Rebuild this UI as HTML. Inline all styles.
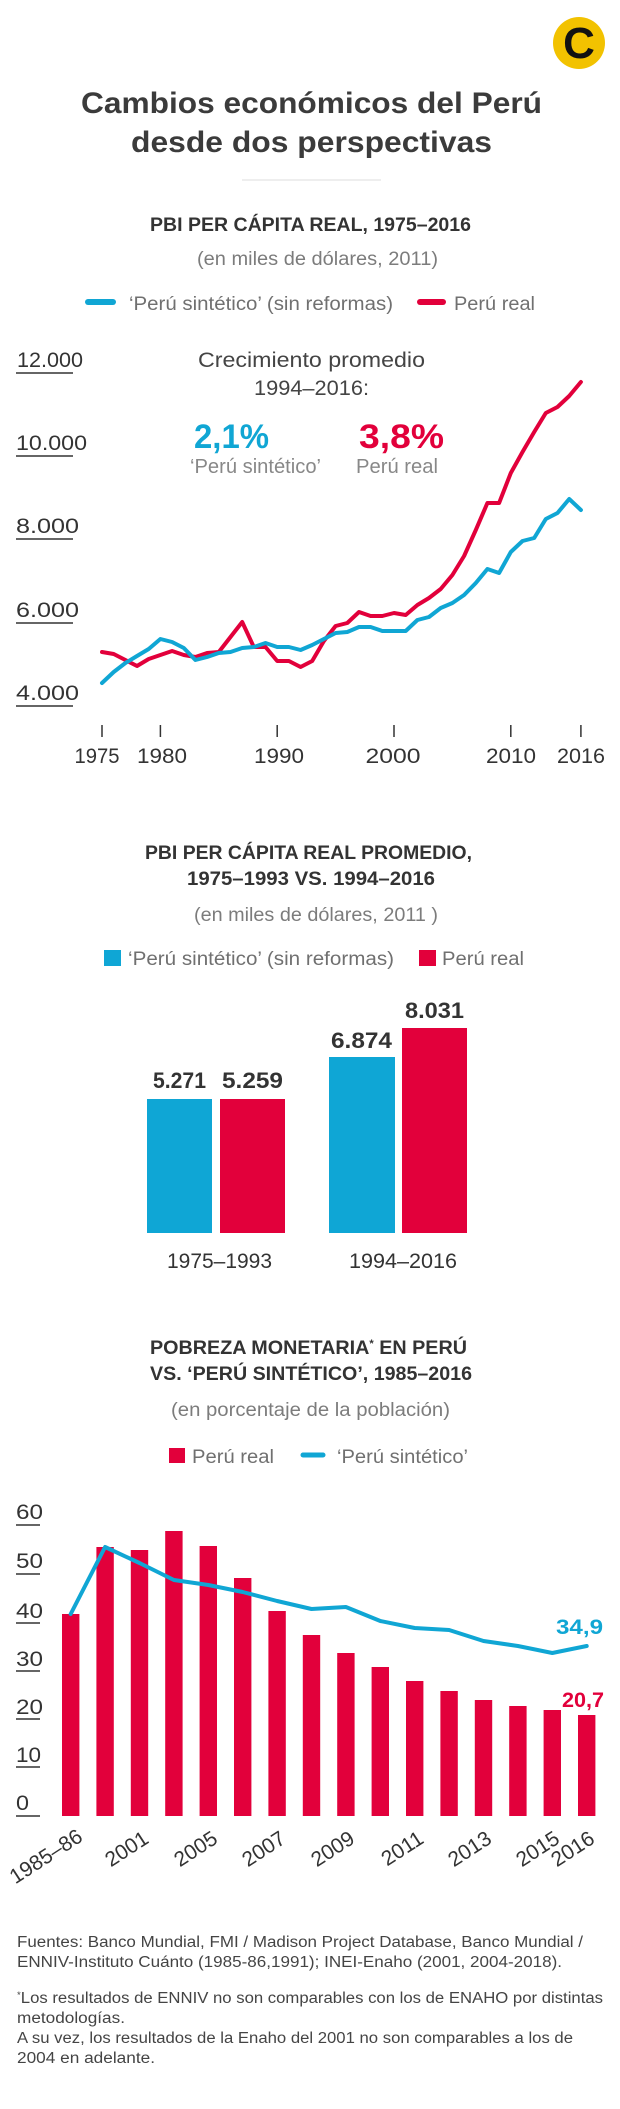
<!DOCTYPE html>
<html>
<head>
<meta charset="utf-8">
<style>
html,body{margin:0;padding:0;background:#fff;}
svg{display:block;}
text{font-family:"Liberation Sans",sans-serif;}
</style>
</head>
<body>
<svg width="620" height="2109" viewBox="0 0 620 2109" xmlns="http://www.w3.org/2000/svg">
<rect x="0" y="0" width="620" height="2109" fill="#ffffff"/>

<!-- Logo -->
<circle cx="579" cy="43" r="26" fill="#F2C200"/>
<text x="579" y="58" text-anchor="middle" font-family="Liberation Serif, serif" font-weight="bold" font-size="44" fill="#111">C</text>

<!-- Title -->
<text x="81" y="113" font-size="30" font-weight="bold" fill="#3b3b3b" textLength="461" lengthAdjust="spacingAndGlyphs">Cambios económicos del Perú</text>
<text x="131" y="152" font-size="30" font-weight="bold" fill="#3b3b3b" textLength="361" lengthAdjust="spacingAndGlyphs">desde dos perspectivas</text>
<line x1="242" y1="180" x2="381" y2="180" stroke="#dddddd" stroke-width="1"/>

<!-- Chart 1 heading -->
<text x="150" y="231" font-size="19.5" font-weight="bold" fill="#333" textLength="321" lengthAdjust="spacingAndGlyphs">PBI PER CÁPITA REAL, 1975–2016</text>
<text x="197" y="265" font-size="19" fill="#7c7c7c" textLength="241" lengthAdjust="spacingAndGlyphs">(en miles de dólares, 2011)</text>
<line x1="88" y1="302" x2="113" y2="302" stroke="#10A6D4" stroke-width="6" stroke-linecap="round"/>
<text x="129" y="310" font-size="19" fill="#707070" textLength="264" lengthAdjust="spacingAndGlyphs">‘Perú sintético’ (sin reformas)</text>
<line x1="420" y1="302" x2="443" y2="302" stroke="#E2003B" stroke-width="6" stroke-linecap="round"/>
<text x="454" y="310" font-size="19" fill="#707070" textLength="81" lengthAdjust="spacingAndGlyphs">Perú real</text>

<!-- Chart 1 y axis -->
<g font-size="21" fill="#333">
<text x="17" y="367" textLength="66" lengthAdjust="spacingAndGlyphs">12.000</text>
<text x="16" y="450" textLength="71" lengthAdjust="spacingAndGlyphs">10.000</text>
<text x="16" y="533" textLength="63" lengthAdjust="spacingAndGlyphs">8.000</text>
<text x="16" y="617" textLength="63" lengthAdjust="spacingAndGlyphs">6.000</text>
<text x="16" y="700" textLength="63" lengthAdjust="spacingAndGlyphs">4.000</text>
</g>
<g stroke="#333" stroke-width="1.5">
<line x1="16" y1="373" x2="73" y2="373"/>
<line x1="16" y1="456" x2="73" y2="456"/>
<line x1="16" y1="539" x2="73" y2="539"/>
<line x1="16" y1="623" x2="73" y2="623"/>
<line x1="16" y1="706" x2="73" y2="706"/>
</g>

<!-- Chart 1 annotation -->
<text x="198" y="367" font-size="21" fill="#444" textLength="227" lengthAdjust="spacingAndGlyphs">Crecimiento promedio</text>
<text x="254" y="395" font-size="21" fill="#444" textLength="115" lengthAdjust="spacingAndGlyphs">1994–2016:</text>
<text x="194" y="448" font-size="34" font-weight="bold" fill="#10A6D4" textLength="75" lengthAdjust="spacingAndGlyphs">2,1%</text>
<text x="359" y="448" font-size="34" font-weight="bold" fill="#E2003B" textLength="85" lengthAdjust="spacingAndGlyphs">3,8%</text>
<text x="190" y="473" font-size="20" fill="#888" textLength="131" lengthAdjust="spacingAndGlyphs">‘Perú sintético’</text>
<text x="356" y="473" font-size="20" fill="#888" textLength="82" lengthAdjust="spacingAndGlyphs">Perú real</text>

<!-- Chart 1 lines -->
<polyline fill="none" stroke="#E2003B" stroke-width="4" stroke-linejoin="round" stroke-linecap="round" points="102,652 113.7,654 125.4,660 137,666 148.7,659 160.4,655 172.1,651 183.8,655 195.4,657 207.1,653 218.8,652 230.5,637 242.2,622 253.8,647 265.5,647 277.2,661 288.9,661 300.6,667 312.2,661 323.9,641 335.6,626 347.3,623 359,612 370.6,616 382.3,616 394,613 405.7,615 417.4,605 429,598 440.7,589 452.4,575 464.1,556 475.8,530 487.4,503 499.1,503 510.8,473 522.5,452 534.2,432 545.8,413 557.5,407 569.2,396 580.9,382"/>
<polyline fill="none" stroke="#10A6D4" stroke-width="4" stroke-linejoin="round" stroke-linecap="round" points="102,683 113.7,672 125.4,663 137,656 148.7,649 160.4,639 172.1,642 183.8,648 195.4,660 207.1,657 218.8,653 230.5,652 242.2,648 253.8,647 265.5,643 277.2,647 288.9,647 300.6,650 312.2,645 323.9,639 335.6,633 347.3,632 359,627 370.6,627 382.3,631 394,631 405.7,631 417.4,620 429,617 440.7,608 452.4,603 464.1,595 475.8,583 487.4,569 499.1,573 510.8,552 522.5,541 534.2,538 545.8,519 557.5,513 569.2,499 580.9,510"/>

<!-- Chart 1 x axis -->
<g stroke="#333" stroke-width="1.5">
<line x1="102" y1="725" x2="102" y2="737"/>
<line x1="160.4" y1="725" x2="160.4" y2="737"/>
<line x1="277.2" y1="725" x2="277.2" y2="737"/>
<line x1="394" y1="725" x2="394" y2="737"/>
<line x1="510.8" y1="725" x2="510.8" y2="737"/>
<line x1="580.9" y1="725" x2="580.9" y2="737"/>
</g>
<g font-size="21" fill="#333" text-anchor="middle">
<text x="97" y="763" textLength="45" lengthAdjust="spacingAndGlyphs">1975</text>
<text x="162" y="763" textLength="50" lengthAdjust="spacingAndGlyphs">1980</text>
<text x="279" y="763" textLength="50" lengthAdjust="spacingAndGlyphs">1990</text>
<text x="393" y="763" textLength="55" lengthAdjust="spacingAndGlyphs">2000</text>
<text x="511" y="763" textLength="50" lengthAdjust="spacingAndGlyphs">2010</text>
<text x="581" y="763" textLength="48" lengthAdjust="spacingAndGlyphs">2016</text>
</g>

<!-- Chart 2 heading -->
<text x="145" y="859" font-size="19.5" font-weight="bold" fill="#333" textLength="327" lengthAdjust="spacingAndGlyphs">PBI PER CÁPITA REAL PROMEDIO,</text>
<text x="187" y="885" font-size="19.5" font-weight="bold" fill="#333" textLength="248" lengthAdjust="spacingAndGlyphs">1975–1993 VS. 1994–2016</text>
<text x="194" y="921" font-size="19" fill="#7c7c7c" textLength="244" lengthAdjust="spacingAndGlyphs">(en miles de dólares, 2011 )</text>
<rect x="104" y="950" width="17" height="16" fill="#0FA6D5"/>
<text x="128" y="965" font-size="19" fill="#707070" textLength="266" lengthAdjust="spacingAndGlyphs">‘Perú sintético’ (sin reformas)</text>
<rect x="419" y="950" width="17" height="16" fill="#E2003B"/>
<text x="442" y="965" font-size="19" fill="#707070" textLength="82" lengthAdjust="spacingAndGlyphs">Perú real</text>

<!-- Chart 2 bars -->
<rect x="147" y="1099" width="65" height="134" fill="#0FA6D5"/>
<rect x="220" y="1099" width="65" height="134" fill="#E2003B"/>
<rect x="329" y="1057" width="66" height="176" fill="#0FA6D5"/>
<rect x="402" y="1028" width="65" height="205" fill="#E2003B"/>
<g font-size="22" font-weight="bold" fill="#333">
<text x="153" y="1088" textLength="53" lengthAdjust="spacingAndGlyphs">5.271</text>
<text x="222" y="1088" textLength="61" lengthAdjust="spacingAndGlyphs">5.259</text>
<text x="331" y="1048" textLength="61" lengthAdjust="spacingAndGlyphs">6.874</text>
<text x="405" y="1018" textLength="59" lengthAdjust="spacingAndGlyphs">8.031</text>
</g>
<g font-size="21" fill="#333">
<text x="167" y="1268" textLength="105" lengthAdjust="spacingAndGlyphs">1975–1993</text>
<text x="349" y="1268" textLength="108" lengthAdjust="spacingAndGlyphs">1994–2016</text>
</g>

<!-- Chart 3 heading -->
<text x="150" y="1354" font-size="19.5" font-weight="bold" fill="#333" textLength="317" lengthAdjust="spacingAndGlyphs">POBREZA MONETARIA<tspan font-size="11" dy="-7">*</tspan><tspan dy="7"> EN PERÚ</tspan></text>
<text x="150" y="1380" font-size="19.5" font-weight="bold" fill="#333" textLength="322" lengthAdjust="spacingAndGlyphs">VS. ‘PERÚ SINTÉTICO’, 1985–2016</text>
<text x="171" y="1416" font-size="19" fill="#7c7c7c" textLength="279" lengthAdjust="spacingAndGlyphs">(en porcentaje de la población)</text>
<rect x="169" y="1448" width="16" height="15" fill="#E2003B"/>
<text x="192" y="1463" font-size="19" fill="#707070" textLength="82" lengthAdjust="spacingAndGlyphs">Perú real</text>
<line x1="303" y1="1455" x2="323" y2="1455" stroke="#10A6D4" stroke-width="5" stroke-linecap="round"/>
<text x="337" y="1463" font-size="19" fill="#707070" textLength="131" lengthAdjust="spacingAndGlyphs">‘Perú sintético’</text>

<!-- Chart 3 y axis -->
<g font-size="21" fill="#333">
<text x="16" y="1519" textLength="27" lengthAdjust="spacingAndGlyphs">60</text>
<text x="16" y="1568" textLength="27" lengthAdjust="spacingAndGlyphs">50</text>
<text x="16" y="1618" textLength="27" lengthAdjust="spacingAndGlyphs">40</text>
<text x="16" y="1666" textLength="27" lengthAdjust="spacingAndGlyphs">30</text>
<text x="16" y="1714" textLength="27" lengthAdjust="spacingAndGlyphs">20</text>
<text x="16" y="1762" textLength="25" lengthAdjust="spacingAndGlyphs">10</text>
<text x="16" y="1810" textLength="13" lengthAdjust="spacingAndGlyphs">0</text>
</g>
<g stroke="#333" stroke-width="1.5">
<line x1="16" y1="1525" x2="40" y2="1525"/>
<line x1="16" y1="1574" x2="40" y2="1574"/>
<line x1="16" y1="1623" x2="40" y2="1623"/>
<line x1="16" y1="1671" x2="40" y2="1671"/>
<line x1="16" y1="1719" x2="40" y2="1719"/>
<line x1="16" y1="1767" x2="40" y2="1767"/>
<line x1="16" y1="1816" x2="40" y2="1816"/>
</g>

<!-- Chart 3 bars -->
<g fill="#E2003B">
<rect x="62" y="1614" width="17.4" height="202"/>
<rect x="96.4" y="1547" width="17.4" height="269"/>
<rect x="130.8" y="1550" width="17.4" height="266"/>
<rect x="165.2" y="1531" width="17.4" height="285"/>
<rect x="199.6" y="1546" width="17.4" height="270"/>
<rect x="234" y="1578" width="17.4" height="238"/>
<rect x="268.4" y="1611" width="17.4" height="205"/>
<rect x="302.8" y="1635" width="17.4" height="181"/>
<rect x="337.2" y="1653" width="17.4" height="163"/>
<rect x="371.6" y="1667" width="17.4" height="149"/>
<rect x="406" y="1681" width="17.4" height="135"/>
<rect x="440.4" y="1691" width="17.4" height="125"/>
<rect x="474.8" y="1700" width="17.4" height="116"/>
<rect x="509.2" y="1706" width="17.4" height="110"/>
<rect x="543.6" y="1710" width="17.4" height="106"/>
<rect x="578" y="1715" width="17.4" height="101"/>
</g>
<polyline fill="none" stroke="#10A6D4" stroke-width="4" stroke-linejoin="round" stroke-linecap="round" points="70.7,1614 105.1,1547 139.5,1563 173.9,1580 208.3,1585 242.7,1592 277.1,1601 311.5,1609 345.9,1607 380.3,1621 414.7,1628 449.1,1630 483.5,1641 517.9,1646 552.3,1653 586.7,1646"/>
<text x="556" y="1634" font-size="21" font-weight="bold" fill="#10A6D4" textLength="47" lengthAdjust="spacingAndGlyphs">34,9</text>
<text x="562" y="1707" font-size="21" font-weight="bold" fill="#E2003B" textLength="42" lengthAdjust="spacingAndGlyphs">20,7</text>

<!-- Chart 3 x labels -->
<g font-size="21" fill="#333" text-anchor="end">
<text x="84" y="1840" transform="rotate(-33 84 1840)">1985–86</text>
<text x="150" y="1842" transform="rotate(-33 150 1842)">2001</text>
<text x="219" y="1842" transform="rotate(-33 219 1842)">2005</text>
<text x="287" y="1842" transform="rotate(-33 287 1842)">2007</text>
<text x="356" y="1842" transform="rotate(-33 356 1842)">2009</text>
<text x="425" y="1842" transform="rotate(-33 425 1842)">2011</text>
<text x="493" y="1842" transform="rotate(-33 493 1842)">2013</text>
<text x="561" y="1842" transform="rotate(-33 561 1842)">2015</text>
<text x="596" y="1842" transform="rotate(-33 596 1842)">2016</text>
</g>

<!-- Footer -->
<g font-size="15.5" fill="#444">
<text x="17" y="1947" textLength="566" lengthAdjust="spacingAndGlyphs">Fuentes: Banco Mundial, FMI / Madison Project Database, Banco Mundial /</text>
<text x="17" y="1967" textLength="545" lengthAdjust="spacingAndGlyphs">ENNIV-Instituto Cuánto (1985-86,1991); INEI-Enaho (2001, 2004-2018).</text>
<text x="17" y="2003" textLength="586" lengthAdjust="spacingAndGlyphs"><tspan font-size="9" dy="-5">*</tspan><tspan dy="5">Los resultados de ENNIV no son comparables con los de ENAHO por distintas</tspan></text>
<text x="17" y="2023" textLength="108" lengthAdjust="spacingAndGlyphs">metodologías.</text>
<text x="17" y="2043" textLength="556" lengthAdjust="spacingAndGlyphs">A su vez, los resultados de la Enaho del 2001 no son comparables a los de</text>
<text x="17" y="2063" textLength="138" lengthAdjust="spacingAndGlyphs">2004 en adelante.</text>
</g>
</svg>
</body>
</html>
